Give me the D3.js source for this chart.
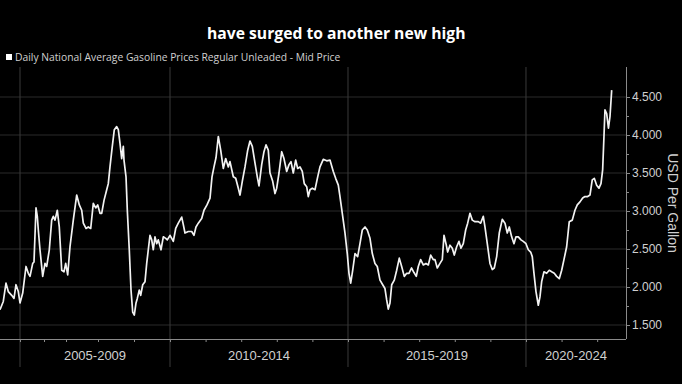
<!DOCTYPE html>
<html>
<head>
<meta charset="utf-8">
<script src="https://cdn.jsdelivr.net/npm/d3@7/dist/d3.min.js"></script>
<style>
  html, body { margin: 0; padding: 0; background: #000; }
  svg { display: block; font-family: "Liberation Sans", Arial, sans-serif; }
</style>
</head>
<body>
<div id="chart"></div>
<script>
// gasoline price, USD per gallon (x as decimal year)
const years = [
  2004.167, 2004.304, 2004.417, 2004.512, 2004.654, 2004.75, 2004.833, 2004.929, 2005.0,
  2005.113, 2005.25, 2005.346, 2005.417, 2005.529, 2005.583, 2005.667, 2005.721, 2005.763, 2005.833, 2005.946,
  2006.045, 2006.123, 2006.241, 2006.35, 2006.423, 2006.5, 2006.605, 2006.695, 2006.805, 2006.909, 2006.986,
  2007.053, 2007.125, 2007.228, 2007.334, 2007.416, 2007.491, 2007.541, 2007.625, 2007.697, 2007.772, 2007.853, 2007.928, 2007.991,
  2008.056, 2008.103, 2008.167, 2008.242, 2008.286, 2008.333, 2008.397, 2008.453, 2008.519, 2008.564, 2008.611, 2008.658, 2008.703, 2008.722, 2008.778, 2008.814, 2008.869, 2008.917, 2008.964,
  2009.008, 2009.056, 2009.092, 2009.147, 2009.186, 2009.242, 2009.306, 2009.353, 2009.397, 2009.444, 2009.492, 2009.536, 2009.583, 2009.631, 2009.675, 2009.75, 2009.814, 2009.881, 2009.925, 2010.0,
  2010.048, 2010.093, 2010.16, 2010.233, 2010.329, 2010.374, 2010.421, 2010.514, 2010.61, 2010.674, 2010.73, 2010.795, 2010.89, 2010.955,
  2011.039, 2011.124, 2011.18, 2011.236, 2011.292, 2011.357, 2011.424, 2011.497, 2011.565, 2011.638, 2011.685, 2011.778, 2011.846, 2011.919, 2011.966,
  2012.031, 2012.107, 2012.183, 2012.247, 2012.312, 2012.388, 2012.452, 2012.5, 2012.576, 2012.64, 2012.697, 2012.761, 2012.809, 2012.885, 2012.949, 2012.997,
  2013.062, 2013.138, 2013.202, 2013.278, 2013.343, 2013.399, 2013.463, 2013.531, 2013.587, 2013.652, 2013.716, 2013.772, 2013.84, 2013.885, 2013.933, 2013.997,
  2014.073, 2014.149, 2014.213, 2014.306, 2014.402, 2014.494, 2014.587, 2014.654, 2014.728, 2014.775, 2014.84, 2014.916, 2014.98,
  2015.028, 2015.076, 2015.132, 2015.197, 2015.272, 2015.337, 2015.402, 2015.478, 2015.542, 2015.618, 2015.683, 2015.758, 2015.823, 2015.899, 2015.975,
  2016.039, 2016.087, 2016.132, 2016.18, 2016.228, 2016.301, 2016.368, 2016.441, 2016.508, 2016.581, 2016.649, 2016.713, 2016.784, 2016.854, 2016.919, 2016.975,
  2017.042, 2017.115, 2017.191, 2017.256, 2017.323, 2017.396, 2017.444, 2017.508, 2017.584, 2017.649, 2017.697, 2017.753, 2017.8, 2017.865, 2017.93, 2017.986,
  2018.053, 2018.118, 2018.174, 2018.239, 2018.306, 2018.362, 2018.427, 2018.492, 2018.567, 2018.66, 2018.728, 2018.801, 2018.848, 2018.913, 2018.989,
  2019.053, 2019.11, 2019.177, 2019.25, 2019.334, 2019.41, 2019.475, 2019.531, 2019.598, 2019.663, 2019.719, 2019.784, 2019.86, 2019.924, 2020.0,
  2020.065, 2020.132, 2020.177, 2020.225, 2020.281, 2020.346, 2020.393, 2020.441, 2020.506, 2020.581, 2020.654, 2020.722, 2020.795, 2020.862, 2020.935,
  2021.003, 2021.067, 2021.143, 2021.216, 2021.301, 2021.376, 2021.441, 2021.517, 2021.593, 2021.657, 2021.733, 2021.798, 2021.862, 2021.919, 2021.986,
  2022.051, 2022.107, 2022.154, 2022.191, 2022.219, 2022.267, 2022.317, 2022.36, 2022.408
];
const prices = [
  1.70, 1.81, 2.05, 1.94, 1.89, 1.85, 2.03, 1.94, 1.79,
  1.92, 2.27, 2.18, 2.14, 2.31, 2.33, 3.04, 2.93, 2.75, 2.49, 2.14,
  2.31, 2.27, 2.49, 2.88, 2.93, 2.88, 3.01, 2.79, 2.22, 2.20, 2.31,
  2.16, 2.53, 2.88, 3.21, 3.08, 3.01, 2.84, 2.77, 2.79, 2.77, 3.10, 3.04, 3.08,
  2.97, 2.97, 3.14, 3.28, 3.36, 3.58, 3.85, 4.07, 4.11, 4.07, 3.89, 3.69, 3.85, 3.67, 3.45, 3.01, 2.49, 1.96, 1.67,
  1.63, 1.79, 1.85, 1.96, 1.89, 2.03, 2.07, 2.31, 2.49, 2.68, 2.62, 2.49, 2.66, 2.57, 2.62, 2.49, 2.66, 2.64, 2.62, 2.68,
  2.64, 2.60, 2.77, 2.84, 2.92, 2.82, 2.71, 2.73, 2.73, 2.68, 2.79, 2.84, 2.90, 3.01,
  3.08, 3.17, 3.45, 3.58, 3.70, 3.98, 3.80, 3.56, 3.69, 3.58, 3.65, 3.45, 3.43, 3.30, 3.21,
  3.39, 3.58, 3.80, 3.92, 3.85, 3.63, 3.45, 3.33, 3.61, 3.78, 3.87, 3.80, 3.50, 3.39, 3.23, 3.30,
  3.50, 3.78, 3.69, 3.52, 3.61, 3.65, 3.50, 3.67, 3.56, 3.58, 3.52, 3.36, 3.32, 3.19, 3.28, 3.30,
  3.28, 3.45, 3.58, 3.68, 3.66, 3.67, 3.52, 3.43, 3.34, 3.19, 2.97, 2.71, 2.44,
  2.18, 2.05, 2.22, 2.44, 2.40, 2.57, 2.75, 2.79, 2.75, 2.64, 2.44, 2.31, 2.27, 2.09, 2.03,
  1.98, 1.83, 1.71, 1.79, 2.03, 2.09, 2.22, 2.38, 2.27, 2.14, 2.18, 2.18, 2.25, 2.19, 2.14, 2.27,
  2.36, 2.29, 2.31, 2.29, 2.42, 2.36, 2.36, 2.25, 2.31, 2.36, 2.68, 2.57, 2.46, 2.55, 2.51, 2.42,
  2.53, 2.60, 2.51, 2.57, 2.75, 2.84, 2.97, 2.88, 2.86, 2.86, 2.84, 2.93, 2.79, 2.57, 2.31,
  2.23, 2.25, 2.40, 2.71, 2.89, 2.84, 2.71, 2.79, 2.66, 2.57, 2.66, 2.66, 2.62, 2.60, 2.57,
  2.49, 2.46, 2.40, 2.18, 1.94, 1.76, 1.87, 2.07, 2.20, 2.18, 2.22, 2.20, 2.18, 2.14, 2.11,
  2.22, 2.36, 2.53, 2.86, 2.88, 3.01, 3.08, 3.12, 3.17, 3.19, 3.19, 3.21, 3.41, 3.43, 3.34,
  3.30, 3.36, 3.54, 3.98, 4.33, 4.28, 4.09, 4.24, 4.59
];

const yTicks = [1.5, 2.0, 2.5, 3.0, 3.5, 4.0, 4.5];
const yMinorTicks = [1.75, 2.25, 2.75, 3.25, 3.75, 4.25];
const yearTicks = [2005, 2006, 2007, 2008, 2009, 2010, 2011, 2012, 2013, 2014, 2015, 2016, 2017, 2018, 2019, 2020, 2021, 2022];
const periodStarts = [2005, 2010, 2015, 2020];
const periodLabels = ["2005-2009", "2010-2014", "2015-2019", "2020-2024"];

const title = "have surged to another new high";
const legendLabel = "Daily National Average Gasoline Prices Regular Unleaded - Mid Price";
const yTitle = "USD Per Gallon";

const width = 682, height = 384;
const plot = {left: 0, right: 626, top: 67, bottom: 339};

const svg = d3.select("#chart").append("svg")
    .attr("width", width)
    .attr("height", height);

svg.append("rect").attr("width", width).attr("height", height).attr("fill", "#000");

// the early years are packed tighter on the source's axis
const x = d3.scaleLinear()
    .domain([2004.167, 2005, 2006, 2007, 2008, 2009, 2010, 2022.81])
    .range([0, 20, 44, 66, 98, 134, 170, plot.right]);

const y = d3.scaleLinear()
    .domain([1.5, 4.5])
    .range([325, 97]);

// horizontal grid
svg.append("g")
    .selectAll("line")
    .data(yTicks)
    .join("line")
    .attr("x1", plot.left).attr("x2", plot.right)
    .attr("y1", d => y(d)).attr("y2", d => y(d))
    .attr("stroke", "#2a2a2a")
    .attr("stroke-width", 1);

// period separators
svg.append("g")
    .selectAll("line")
    .data(periodStarts)
    .join("line")
    .attr("x1", d => x(d)).attr("x2", d => x(d))
    .attr("y1", plot.top).attr("y2", 367)
    .attr("stroke", "#3a3a3a")
    .attr("stroke-width", 1);

// x axis
const xAxis = d3.axisBottom(x)
    .tickValues(yearTicks)
    .tickSize(3)
    .tickFormat("");

const gx = svg.append("g")
    .attr("transform", `translate(0,${plot.bottom})`)
    .call(xAxis);
gx.select(".domain").attr("stroke", "#8a8a8a").attr("d", `M${plot.left},0.5H${plot.right}`);
gx.selectAll(".tick line").attr("stroke", "#8a8a8a");

// period labels, centred in the visible part of each period
svg.append("g")
    .selectAll("text")
    .data(periodStarts)
    .join("text")
    .attr("x", (d, i) => {
        const a = Math.max(x(d), plot.left);
        const b = Math.min(x(d + 5), plot.right);
        return (a + b) / 2;
    })
    .attr("y", 360)
    .attr("text-anchor", "middle")
    .attr("fill", "#d0d0d0")
    .attr("font-size", 13)
    .text((d, i) => periodLabels[i]);

// y axis on the right
const yAxis = d3.axisRight(y)
    .tickValues(yTicks)
    .tickSize(4)
    .tickPadding(2)
    .tickFormat(d3.format(".3f"));

const gy = svg.append("g")
    .attr("transform", `translate(${plot.right},0)`)
    .call(yAxis);
gy.select(".domain").attr("stroke", "#8a8a8a").attr("d", `M0.5,${plot.top}V${plot.bottom}`);
gy.selectAll(".tick line").attr("stroke", "#8a8a8a");
gy.selectAll(".tick text")
    .attr("fill", "#d0d0d0")
    .attr("font-size", 12)
    .attr("font-family", "Liberation Sans, Arial, sans-serif");

gy.append("g")
    .selectAll("line")
    .data(yMinorTicks)
    .join("line")
    .attr("x1", 0).attr("x2", 3)
    .attr("y1", d => y(d) + 0.5).attr("y2", d => y(d) + 0.5)
    .attr("stroke", "#8a8a8a");

svg.append("text")
    .attr("transform", "translate(668,203) rotate(90)")
    .attr("text-anchor", "middle")
    .attr("fill", "#d0d0d0")
    .attr("font-size", 14)
    .text(yTitle);

// price line
const line = d3.line()
    .x(d => x(d[0]))
    .y(d => y(d[1]));

svg.append("path")
    .datum(years.map((t, i) => [t, prices[i]]))
    .attr("d", line)
    .attr("fill", "none")
    .attr("stroke", "#f2f2f2")
    .attr("stroke-width", 1.7)
    .attr("stroke-linejoin", "round");

// title and legend
svg.append("text")
    .attr("x", 207)
    .attr("y", 39)
    .attr("fill", "#fff")
    .attr("font-family", "Open Sans, sans-serif")
    .attr("font-size", 15.7)
    .attr("font-weight", "bold")
    .text(title);

svg.append("rect")
    .attr("x", 6).attr("y", 54)
    .attr("width", 6).attr("height", 6)
    .attr("fill", "#fff");

svg.append("text")
    .attr("x", 15)
    .attr("y", 61)
    .attr("fill", "#d0d0d0")
    .attr("font-family", "Open Sans, sans-serif")
    .attr("font-size", 10.3)
    .text(legendLabel);
</script>
</body>
</html>
